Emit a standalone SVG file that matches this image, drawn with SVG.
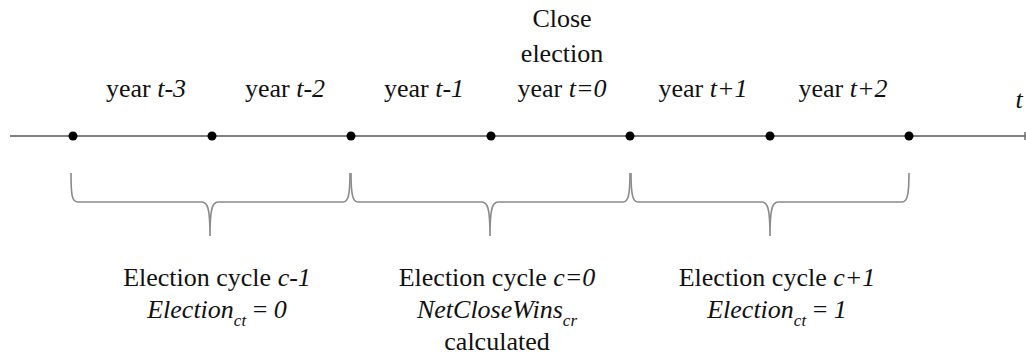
<svg xmlns="http://www.w3.org/2000/svg" width="1026" height="362" viewBox="0 0 1026 362">
<style>
text{font-family:"Liberation Serif",Tinos,"Times New Roman","Liberation Sans",sans-serif;font-size:26px;fill:#111;text-anchor:middle}
.i{font-style:italic}
.sub{font-size:17px;font-style:italic}
.brace{fill:none;stroke:#8a8a8a;stroke-width:1.6}
.dot{fill:#000}
</style>
<rect width="1026" height="362" fill="#fff"/>
<g id="axis">
<line x1="10" y1="136" x2="1025" y2="136" stroke="#555" stroke-width="1.3"/>
<line x1="1025" y1="132" x2="1025" y2="140" stroke="#555" stroke-width="1.3"/>
<text x="1019" y="108" class="i">t</text>
</g>
<g id="points">
<circle class="dot" cx="73" cy="136" r="4.5"/>
<circle class="dot" cx="212" cy="136" r="4.5"/>
<circle class="dot" cx="351" cy="136" r="4.5"/>
<circle class="dot" cx="491" cy="136" r="4.5"/>
<circle class="dot" cx="630" cy="136" r="4.5"/>
<circle class="dot" cx="770" cy="136" r="4.5"/>
<circle class="dot" cx="909" cy="136" r="4.5"/>
</g>
<g id="year-labels">
<text x="146" y="97">year <tspan class="i">t-3</tspan></text>
<text x="285" y="97">year <tspan class="i">t-2</tspan></text>
<text x="424" y="97">year <tspan class="i">t-1</tspan></text>
<text x="562" y="27">Close</text>
<text x="562" y="62">election</text>
<text x="562" y="97">year <tspan class="i">t=0</tspan></text>
<text x="703" y="97">year <tspan class="i">t+1</tspan></text>
<text x="843" y="97">year <tspan class="i">t+2</tspan></text>
</g>
<g id="connectors">
<path class="brace" d="M71,173 C71,196 72,202 78,202 L202,202 C208,202 210,210 210,236 C210,210 212,202 218,202 L343,202 C348,202 350,196 350,173"/>
<path class="brace" d="M351,173 C351,196 353,202 358,202 L482,202 C488,202 490,210 490,236 C490,210 492,202 498,202 L623,202 C628,202 630,196 630,173"/>
<path class="brace" d="M631,173 C631,196 633,202 638,202 L762,202 C768,202 770,210 770,236 C770,210 772,202 778,202 L902,202 C907,202 909,196 909,173"/>
</g>
<g id="cycle-prev">
<text x="217" y="286">Election cycle <tspan class="i">c-1</tspan></text>
<text x="217" y="318"><tspan class="i">Election</tspan><tspan class="sub" dy="8">ct</tspan><tspan dy="-8"> = </tspan><tspan class="i">0</tspan></text>
</g>
<g id="cycle-zero">
<text x="497" y="286">Election cycle <tspan class="i">c=0</tspan></text>
<text x="497" y="318"><tspan class="i">NetCloseWins</tspan><tspan class="sub" dy="8">cr</tspan></text>
<text x="497" y="350">calculated</text>
</g>
<g id="cycle-next">
<text x="777" y="286">Election cycle <tspan class="i">c+1</tspan></text>
<text x="777" y="318"><tspan class="i">Election</tspan><tspan class="sub" dy="8">ct</tspan><tspan dy="-8"> = </tspan><tspan class="i">1</tspan></text>
</g>
</svg>
